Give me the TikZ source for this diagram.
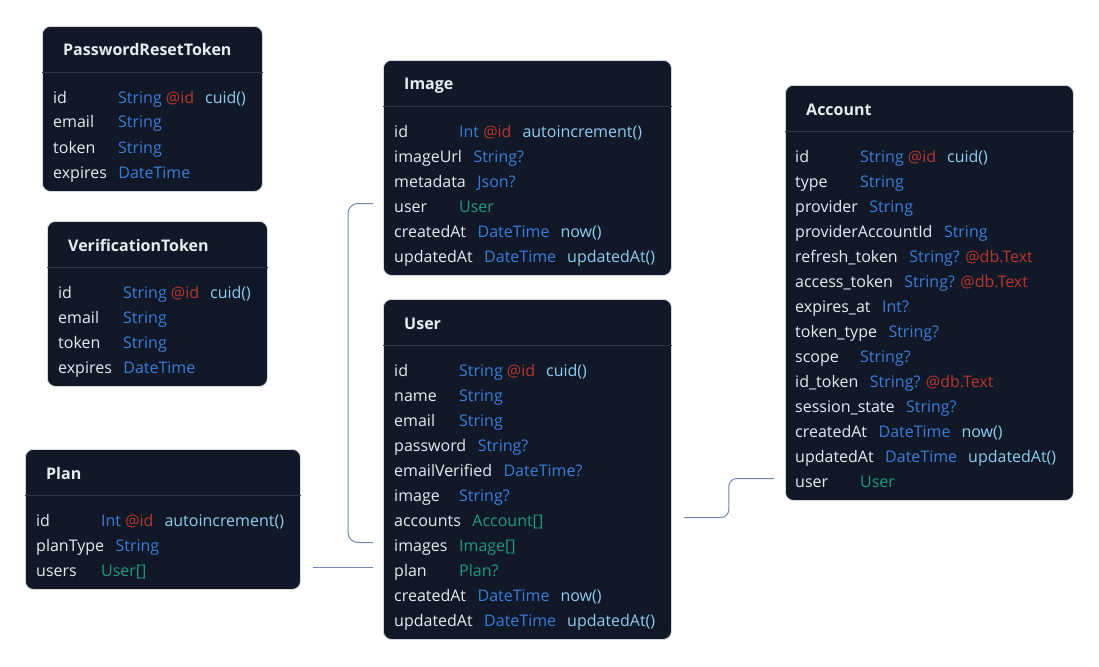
\documentclass[tikz,border=0pt]{standalone}
\usepackage{fontspec}
\setmainfont{Open Sans}
\usetikzlibrary{calc}

\definecolor{boxbg}{HTML}{111827}
\definecolor{sepline}{HTML}{2A3444}
\definecolor{fname}{HTML}{E8EBF0}
\definecolor{ftype}{HTML}{3B7DD8}
\definecolor{fattr}{HTML}{B8382C}
\definecolor{ffunc}{HTML}{8DCDF0}
\definecolor{frel}{HTML}{1F9A80}
\definecolor{link}{HTML}{7186AE}

\newlength\fldw
\newcommand\fld[2]{\settowidth\fldw{#1\hspace{11.5pt}}\ifdim\fldw<65pt\fldw=65pt\fi\makebox[\fldw][l]{#1}#2}
\newcommand\dbty[1]{\textcolor{ftype}{#1}}
\newcommand\dbrel[1]{\textcolor{frel}{#1}}
\newcommand\dbat[1]{ \textcolor{fattr}{#1}}
\newcommand\dbfn[1]{\hspace{11pt}\textcolor{ffunc}{#1}}

\tikzset{
  tbl/.style={draw=black!15, line width=0.8pt, fill=boxbg, rounded corners=8pt, anchor=north west, inner sep=0pt},
  ttl/.style={anchor=base west, inner sep=0pt, text=fname, font=\fontsize{16}{19}\selectfont\bfseries},
  sep/.style={draw=sepline, line width=0.8pt},
  fld/.style={anchor=base west, inner sep=0pt, text=fname, font=\fontsize{16}{19}\selectfont},
  link/.style={draw=link, line width=1pt}
}

\begin{document}
\begin{tikzpicture}[x=1pt, y=-1pt]
  \useasboundingbox[fill=white] (0,0) rectangle (1099,666);

  \node[tbl, minimum width=220pt, minimum height=165pt] (prt) at (42,26) {};
  \node[ttl] at ($(prt.north west)+(21,30)$) {PasswordResetToken};
  \draw[sep] ($(prt.north west)+(0,46)$) -- ($(prt.north east)+(0,46)$);
  \foreach \r [count=\i] in {
      {\fld{id}{\dbty{String}\dbat{@id}\dbfn{cuid()}}},
      {\fld{email}{\dbty{String}}},
      {\fld{token}{\dbty{String}}},
      {\fld{expires}{\dbty{DateTime}}}}
    \node[fld] (prt-\i) at ($(prt.north west)+(11,52+25*\i)$) {\r};

  \node[tbl, minimum width=220pt, minimum height=165pt] (vt) at (47,221) {};
  \node[ttl] at ($(vt.north west)+(21,30)$) {VerificationToken};
  \draw[sep] ($(vt.north west)+(0,46)$) -- ($(vt.north east)+(0,46)$);
  \foreach \r [count=\i] in {
      {\fld{id}{\dbty{String}\dbat{@id}\dbfn{cuid()}}},
      {\fld{email}{\dbty{String}}},
      {\fld{token}{\dbty{String}}},
      {\fld{expires}{\dbty{DateTime}}}}
    \node[fld] (vt-\i) at ($(vt.north west)+(11,52+25*\i)$) {\r};

  \node[tbl, minimum width=275pt, minimum height=140pt] (pln) at (25,449) {};
  \node[ttl] at ($(pln.north west)+(21,30)$) {Plan};
  \draw[sep] ($(pln.north west)+(0,46)$) -- ($(pln.north east)+(0,46)$);
  \foreach \r [count=\i] in {
      {\fld{id}{\dbty{Int}\dbat{@id}\dbfn{autoincrement()}}},
      {\fld{planType}{\dbty{String}}},
      {\fld{users}{\dbrel{User[]}}}}
    \node[fld] (pln-\i) at ($(pln.north west)+(11,52+25*\i)$) {\r};

  \node[tbl, minimum width=288pt, minimum height=215pt] (img) at (383,60) {};
  \node[ttl] at ($(img.north west)+(21,30)$) {Image};
  \draw[sep] ($(img.north west)+(0,46)$) -- ($(img.north east)+(0,46)$);
  \foreach \r [count=\i] in {
      {\fld{id}{\dbty{Int}\dbat{@id}\dbfn{autoincrement()}}},
      {\fld{imageUrl}{\dbty{String?}}},
      {\fld{metadata}{\dbty{Json?}}},
      {\fld{user}{\dbrel{User}}},
      {\fld{createdAt}{\dbty{DateTime}\dbfn{now()}}},
      {\fld{updatedAt}{\dbty{DateTime}\dbfn{updatedAt()}}}}
    \node[fld] (img-\i) at ($(img.north west)+(11,52+25*\i)$) {\r};

  \node[tbl, minimum width=288pt, minimum height=340pt] (usr) at (383,299) {};
  \node[ttl] at ($(usr.north west)+(21,30)$) {User};
  \draw[sep] ($(usr.north west)+(0,46)$) -- ($(usr.north east)+(0,46)$);
  \foreach \r [count=\i] in {
      {\fld{id}{\dbty{String}\dbat{@id}\dbfn{cuid()}}},
      {\fld{name}{\dbty{String}}},
      {\fld{email}{\dbty{String}}},
      {\fld{password}{\dbty{String?}}},
      {\fld{emailVerified}{\dbty{DateTime?}}},
      {\fld{image}{\dbty{String?}}},
      {\fld{accounts}{\dbrel{Account[]}}},
      {\fld{images}{\dbrel{Image[]}}},
      {\fld{plan}{\dbrel{Plan?}}},
      {\fld{createdAt}{\dbty{DateTime}\dbfn{now()}}},
      {\fld{updatedAt}{\dbty{DateTime}\dbfn{updatedAt()}}}}
    \node[fld] (usr-\i) at ($(usr.north west)+(11,52+25*\i)$) {\r};

  \node[tbl, minimum width=288pt, minimum height=415pt] (acc) at (785,85) {};
  \node[ttl] at ($(acc.north west)+(21,30)$) {Account};
  \draw[sep] ($(acc.north west)+(0,46)$) -- ($(acc.north east)+(0,46)$);
  \foreach \r [count=\i] in {
      {\fld{id}{\dbty{String}\dbat{@id}\dbfn{cuid()}}},
      {\fld{type}{\dbty{String}}},
      {\fld{provider}{\dbty{String}}},
      {\fld{providerAccountId}{\dbty{String}}},
      {\fld{refresh\_token}{\dbty{String?}\dbat{@db.Text}}},
      {\fld{access\_token}{\dbty{String?}\dbat{@db.Text}}},
      {\fld{expires\_at}{\dbty{Int?}}},
      {\fld{token\_type}{\dbty{String?}}},
      {\fld{scope}{\dbty{String?}}},
      {\fld{id\_token}{\dbty{String?}\dbat{@db.Text}}},
      {\fld{session\_state}{\dbty{String?}}},
      {\fld{createdAt}{\dbty{DateTime}\dbfn{now()}}},
      {\fld{updatedAt}{\dbty{DateTime}\dbfn{updatedAt()}}},
      {\fld{user}{\dbrel{User}}}}
    \node[fld] (acc-\i) at ($(acc.north west)+(10,52+25*\i)$) {\r};

  \draw[link, rounded corners=10pt] ($(img-4.base west)+(-21,-8.5)$) -- ++(-25,0) |- ($(usr-8.base west)+(-21,-8.5)$);
  \draw[link] ($(pln-3.base west -| pln.east)+(12,-8.5)$) -- ($(usr-9.base west)+(-21,-8.5)$);
  \draw[link, rounded corners=8pt] ($(usr-7.base west -| usr.east)+(12,-8.5)$) -- ++(45,0) |- ($(acc-14.base west)+(-21,-8.5)$);
\end{tikzpicture}
\end{document}
